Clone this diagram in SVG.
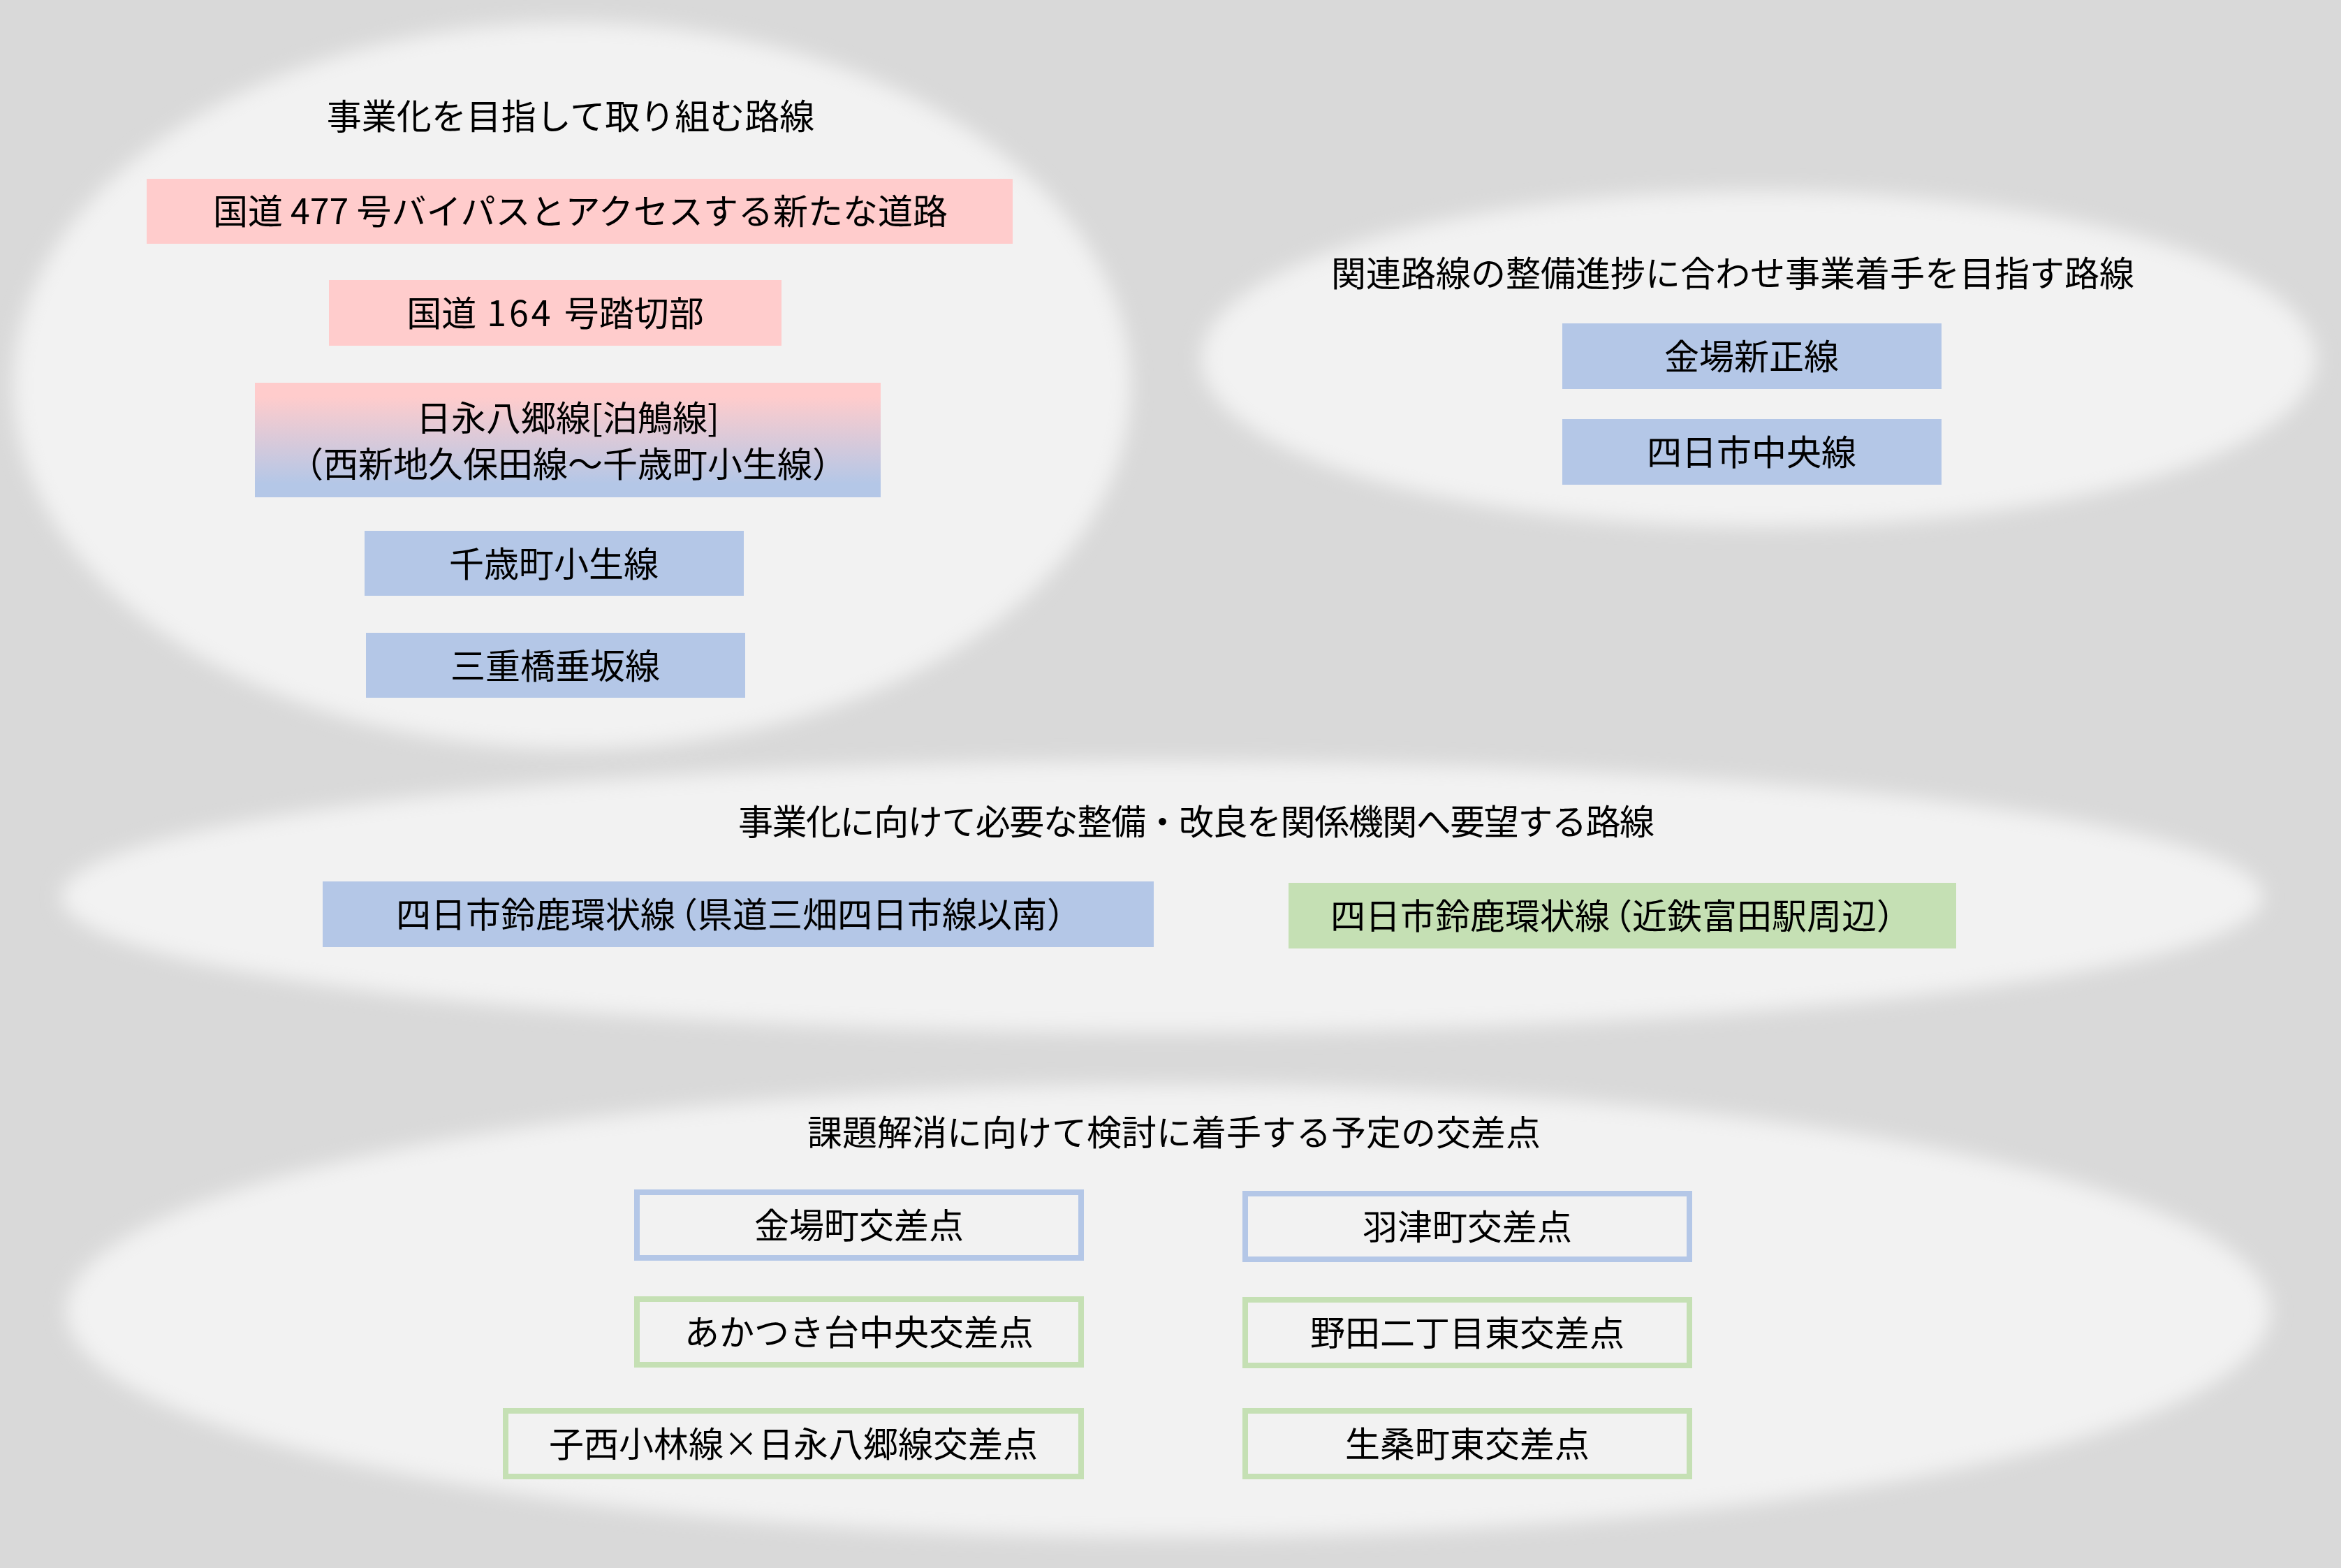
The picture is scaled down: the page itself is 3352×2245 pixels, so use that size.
<svg xmlns="http://www.w3.org/2000/svg" width="3352" height="2245" viewBox="0 0 3352 2245">
<defs>
<filter id="soft" x="-10%" y="-20%" width="120%" height="140%">
<feGaussianBlur stdDeviation="14"/>
</filter>
<linearGradient id="pb" x1="0" y1="0" x2="0" y2="1">
<stop offset="0.12" stop-color="#ffcccc"/>
<stop offset="0.88" stop-color="#b4c7e7"/>
</linearGradient>
<style>
text{font-family:"Noto Sans CJK JP","Noto Sans CJK SC",sans-serif;font-size:50px;fill:#000;text-anchor:middle;dominant-baseline:central}
.grp{fill:#f2f2f2;filter:url(#soft)}
.pink{fill:#ffcccc}
.blue{fill:#b4c7e7}
.green{fill:#c5e0b4}
.ob{fill:#f2f2f2;stroke:#b4c7e7;stroke-width:8}
.og{fill:#f2f2f2;stroke:#c5e0b4;stroke-width:8}
</style>
</defs>
<rect x="0" y="0" width="3352" height="2245" fill="#d9d9d9"/>

<g id="group1">
<ellipse class="grp" cx="819" cy="552" rx="800" ry="520"/>
<text x="817" y="163">事業化を目指して取り組む路線</text>
</g>
<g id="group2">
<ellipse class="grp" cx="2518" cy="514" rx="798" ry="240"/>
<text x="2481" y="388">関連路線の整備進捗に合わせ事業着手を目指す路線</text>
</g>
<g id="group3">
<ellipse class="grp" cx="1664" cy="1284" rx="1576" ry="194"/>
<text x="1713" y="1173" textLength="1312" lengthAdjust="spacing">事業化に向けて必要な整備・改良を関係機関へ要望する路線</text>
</g>
<g id="group4">
<ellipse class="grp" cx="1673" cy="1877" rx="1578" ry="324"/>
<text x="1681" y="1618">課題解消に向けて検討に着手する予定の交差点</text>
</g>

<g id="n1"><rect class="pink" x="210" y="256" width="1240" height="93"/><text x="831" y="299">国道 477 号バイパスとアクセスする新たな道路</text></g>
<g id="n2"><rect class="pink" x="471" y="401" width="648" height="94"/><text x="795" y="445">国道<tspan style="letter-spacing:4px"> 164 </tspan>号踏切部</text></g>
<g id="n3"><rect x="365" y="548" width="896" height="164" fill="url(#pb)"/><text x="813" y="595">日永八郷線[泊鵤線]</text><text x="813" y="661">（西新地久保田線～千歳町小生線）</text></g>
<g id="n4"><rect class="blue" x="522" y="760" width="543" height="93"/><text x="793" y="804">千歳町小生線</text></g>
<g id="n5"><rect class="blue" x="524" y="906" width="543" height="93"/><text x="795" y="950">三重橋垂坂線</text></g>

<g id="n6"><rect class="blue" x="2237" y="463" width="543" height="94"/><text x="2508" y="507">金場新正線</text></g>
<g id="n7"><rect class="blue" x="2237" y="600" width="543" height="94"/><text x="2508" y="644">四日市中央線</text></g>

<g id="n8"><rect class="blue" x="462" y="1262" width="1190" height="94"/><text x="1058" y="1306">四日市鈴鹿環状線<tspan dx="-18">（県道三畑四日市線以南）</tspan></text></g>
<g id="n9"><rect class="green" x="1845" y="1264" width="956" height="94"/><text x="2321" y="1308">四日市鈴鹿環状線<tspan dx="-18">（近鉄富田駅周辺）</tspan></text></g>

<g id="n10"><rect class="ob" x="912" y="1707" width="636" height="94"/><text x="1230" y="1751">金場町交差点</text></g>
<g id="n11"><rect class="ob" x="1783" y="1709" width="636" height="94"/><text x="2101" y="1753">羽津町交差点</text></g>
<g id="n12"><rect class="og" x="912" y="1860" width="636" height="94"/><text x="1230" y="1904">あかつき台中央交差点</text></g>
<g id="n13"><rect class="og" x="1783" y="1861" width="636" height="94"/><text x="2101" y="1905">野田二丁目東交差点</text></g>
<g id="n14"><rect class="og" x="724" y="2020" width="824" height="94"/><text x="1136" y="2064">子西小林線×日永八郷線交差点</text></g>
<g id="n15"><rect class="og" x="1783" y="2020" width="636" height="94"/><text x="2101" y="2064">生桑町東交差点</text></g>

<g id="connectors"/>
</svg>
